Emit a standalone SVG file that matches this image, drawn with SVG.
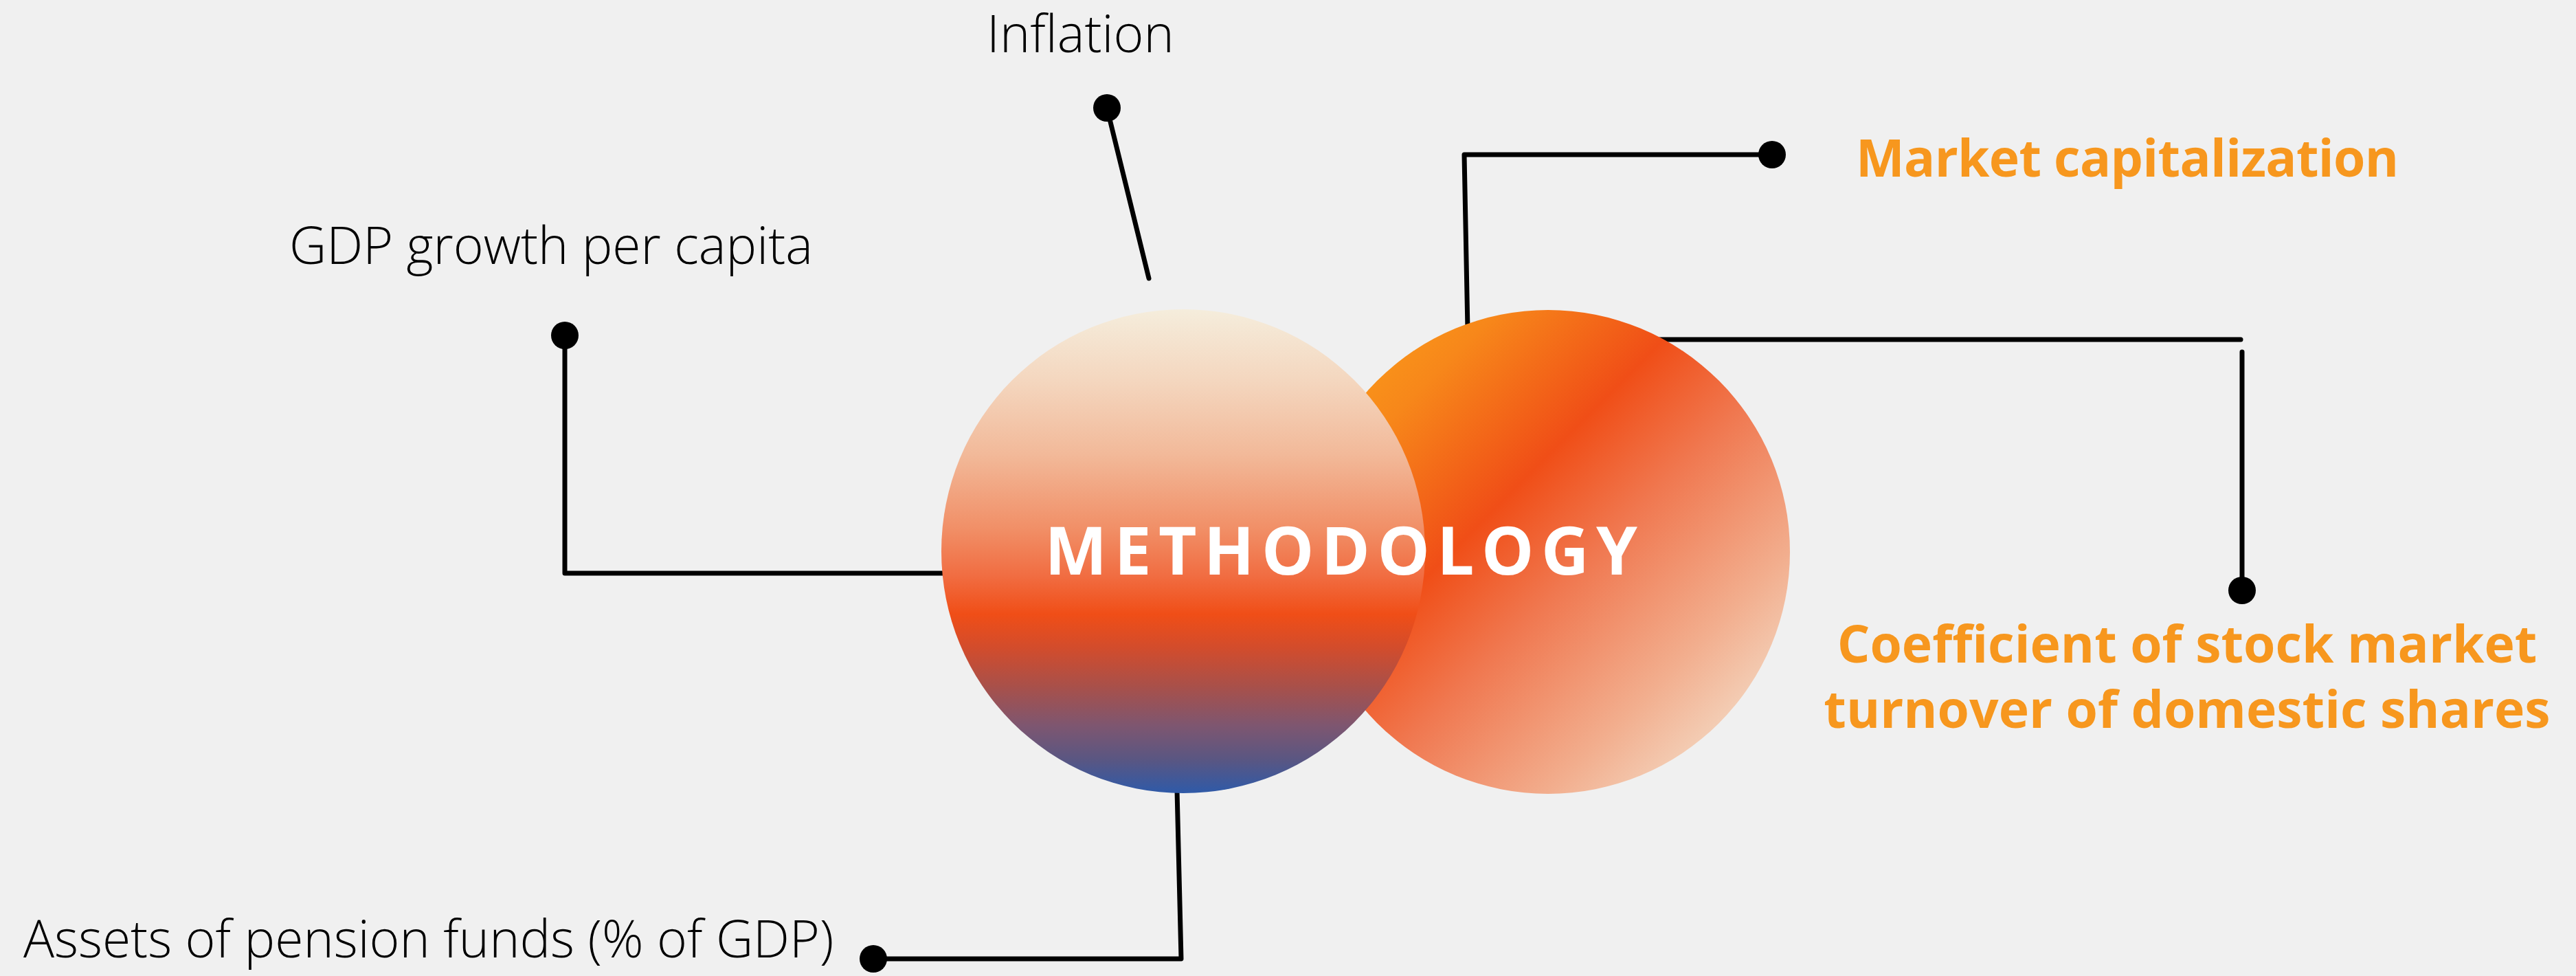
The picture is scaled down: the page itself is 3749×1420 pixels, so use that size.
<svg xmlns="http://www.w3.org/2000/svg" width="3749" height="1420" viewBox="0 0 3749 1420">
  <style>
    .wire { fill: none; stroke: #000; stroke-width: 7; stroke-linecap: round; stroke-linejoin: round; }
    .dot { fill: #000; }
    .light { font-family: "Open Sans", "Liberation Sans", sans-serif; font-weight: 300; font-size: 75px; fill: #000; }
    .accent { font-family: "Open Sans", "Liberation Sans", sans-serif; font-weight: 700; font-size: 75px; fill: #F7971E; }
    .title { font-family: "Open Sans", "Liberation Sans", sans-serif; font-weight: 700; font-size: 96px; fill: #fff; letter-spacing: 10.5px; }
  </style>
  <defs>
    <linearGradient id="gradLeft" x1="0" y1="0" x2="0" y2="1">
      <stop offset="0" stop-color="#F5EDDC"/>
      <stop offset="0.15" stop-color="#F4D6BE"/>
      <stop offset="0.3" stop-color="#F2B999"/>
      <stop offset="0.45" stop-color="#F19068"/>
      <stop offset="0.55" stop-color="#F16D42"/>
      <stop offset="0.63" stop-color="#F04E17"/>
      <stop offset="0.7" stop-color="#D24C2C"/>
      <stop offset="0.78" stop-color="#A8504A"/>
      <stop offset="0.86" stop-color="#7E5670"/>
      <stop offset="0.93" stop-color="#5A5682"/>
      <stop offset="1" stop-color="#2F5AA8"/>
    </linearGradient>
    <linearGradient id="gradRight" x1="0" y1="0" x2="1" y2="1">
      <stop offset="0" stop-color="#FCA71A"/>
      <stop offset="0.2" stop-color="#F7871A"/>
      <stop offset="0.4" stop-color="#F04E17"/>
      <stop offset="0.55" stop-color="#F07850"/>
      <stop offset="0.75" stop-color="#F2AE8E"/>
      <stop offset="0.92" stop-color="#F4E0CC"/>
      <stop offset="1" stop-color="#F6F0E0"/>
    </linearGradient>
  </defs>

  <rect width="3749" height="1420" fill="#F0F0F0"/>

  <!-- connectors -->
  <g id="connectors">
    <line class="wire" x1="1611" y1="157" x2="1672" y2="405"/>
    <circle class="dot" cx="1611" cy="157" r="20"/>

    <polyline class="wire" points="822,488 822,834 1380,834"/>
    <circle class="dot" cx="822" cy="488" r="20"/>

    <polyline class="wire" points="1713,1150 1719,1395 1271,1395"/>
    <circle class="dot" cx="1271" cy="1395" r="20"/>

    <polyline class="wire" points="2579,225 2131,225 2136,480"/>
    <circle class="dot" cx="2579" cy="225" r="20"/>

    <polyline class="wire" points="2400,494 3261,494"/>
    <line class="wire" x1="3263" y1="512" x2="3263" y2="859"/>
    <circle class="dot" cx="3263" cy="859" r="20"/>
  </g>

  <!-- central pair of circles -->
  <g id="node-right-circle">
    <circle cx="2253" cy="803" r="352" fill="url(#gradRight)"/>
  </g>
  <g id="node-left-circle">
    <circle cx="1722" cy="802" r="352" fill="url(#gradLeft)"/>
  </g>
  <g id="node-title">
    <text class="title" x="1957" y="836" text-anchor="middle">METHODOLOGY</text>
  </g>

  <!-- labels -->
  <g id="node-inflation">
    <text class="light" x="1436" y="76">Inflation</text>
  </g>
  <g id="node-gdp">
    <text class="light" x="421" y="384">GDP growth per capita</text>
  </g>
  <g id="node-pension">
    <text class="light" x="34" y="1393">Assets of pension funds (% of GDP)</text>
  </g>
  <g id="node-market-cap">
    <text class="accent" x="2701" y="257" textLength="790">Market capitalization</text>
  </g>
  <g id="node-turnover">
    <text class="accent" x="3183" y="964" text-anchor="middle">Coefficient of stock market</text>
    <text class="accent" x="3183" y="1059" text-anchor="middle">turnover of domestic shares</text>
  </g>
</svg>
